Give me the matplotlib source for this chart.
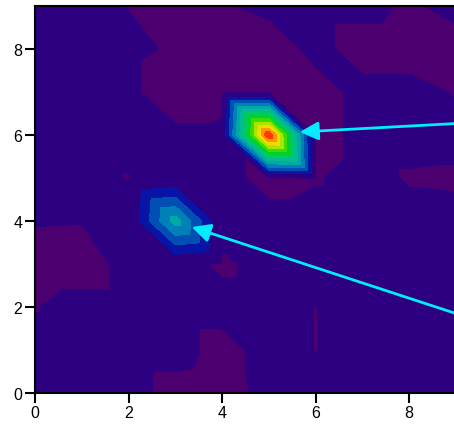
import numpy as np
import matplotlib
matplotlib.use("Agg")
import matplotlib.pyplot as plt
import matplotlib.tri as mtri

# grid of sample points (x = 0..9, y = 0..9)
x_vals = np.arange(10)
y_vals = np.arange(10)

# background value and the low (purple) spots, as (x, y, value)
base_value = 0.02
low_spots = [
    (2, 9, -0.003), (3, 9, -0.03), (4, 9, -0.01),
    (3, 8, -0.012), (4, 8, -0.03), (5, 8, -0.045),
    (3, 7, -0.06), (4, 7, -0.03), (5, 7, -0.03), (6, 7, -0.03),
    (6, 6, -0.03), (5, 5, -0.02), (6, 5, -0.005),
    (7, 8, -0.03), (8, 8, -0.03), (9, 8, -0.03), (8, 9, -0.01), (9, 7, -0.005),
    (8, 5, -0.006), (9, 5, -0.01),
    (0, 3, -0.03), (1, 3, -0.03), (0, 2, -0.003),
    (0, 4, 0.004), (1, 4, 0.002),
    (3, 0, -0.02), (4, 0, -0.03), (4, 1, -0.02),
    (6, 1, -0.001), (6, 2, -0.001),
    (2, 5, -0.003), (4, 3, -0.01),
]
# the two peaks
peaks = [(5, 6, 1.0), (3, 4, 0.36)]

# contour levels and band colours
levels = [-1, 0, 0.1, 0.175, 0.25, 0.325, 0.4, 0.475, 0.55, 0.625,
          0.7, 0.775, 0.85, 0.925, 1.05]
band_colors = ['#4c0070', '#2c0080', '#0814a6', '#0050b4', '#0080b8',
               '#00a8a8', '#00bc90', '#00c864', '#00d22c', '#3cdc00',
               '#a8e400', '#f0dc00', '#ff9600', '#ff3c00']

# arrows: (start, tip) in data units
arrow_starts = [(9.05, 6.27), (9.05, 1.83)]
arrow_tips = [(5.66, 6.07), (3.35, 3.86)]

z = np.full((len(y_vals), len(x_vals)), base_value)
for px, py, v in low_spots + peaks:
    z[py, px] = v

X, Y = np.meshgrid(x_vals, y_vals)
nx = len(x_vals)
tris = []
for j in range(len(y_vals) - 1):
    for i in range(nx - 1):
        a = j * nx + i
        b = a + 1
        c = a + nx
        d = c + 1
        tris.append([a, b, c])
        tris.append([b, d, c])
tri = mtri.Triangulation(X.ravel(), Y.ravel(), np.array(tris))

fig = plt.figure(figsize=(4.54, 4.27), dpi=100)
ax = fig.add_axes([35 / 454, 33 / 427, 421 / 454, 387 / 427])
cs = ax.tricontourf(tri, z.ravel(), levels=levels, colors=band_colors)
cs.set_edgecolor('face')
cs.set_linewidth(0.6)

for s, t in zip(arrow_starts, arrow_tips):
    ax.annotate("", xy=t, xytext=s, annotation_clip=False,
                arrowprops=dict(arrowstyle="-|>,head_length=0.8,head_width=0.4",
                                mutation_scale=14, color='#00eeff', lw=2,
                                shrinkA=0, shrinkB=0))

ax.set_xlim(0, 9)
ax.set_ylim(0, 9)
ax.set_xticks([0, 2, 4, 6, 8])
ax.set_yticks([0, 2, 4, 6, 8])
ax.tick_params(direction='out', length=7, width=1.5, pad=2,
               labelsize=11.5, labelfontfamily='Liberation Sans')
for sp in ax.spines.values():
    sp.set_linewidth(1.5)

fig.savefig("out.png", dpi=100)
